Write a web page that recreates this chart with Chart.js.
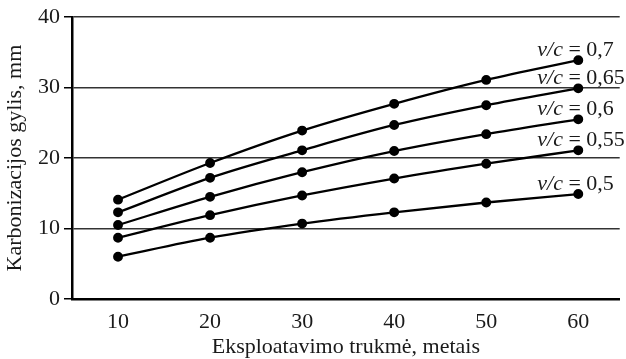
<!DOCTYPE html>
<html>
<head>
<meta charset="utf-8">
<script src="https://cdn.jsdelivr.net/npm/chart.js@4"></script>
<style>
  body { margin: 0; background: #fff; }
  #wrap { width: 626px; height: 359px; }
</style>
</head>
<body>
<div id="wrap"><canvas id="chart"></canvas></div>
<script>
const years = [10, 20, 30, 40, 50, 60];
const ratios = ["0,5", "0,55", "0,6", "0,65", "0,7"];
const vc050 = [6.0, 8.7, 10.7, 12.3, 13.7, 14.9];
const vc055 = [8.7, 11.9, 14.7, 17.1, 19.2, 21.1];
const vc060 = [10.5, 14.5, 18.0, 21.0, 23.4, 25.5];
const vc065 = [12.3, 17.2, 21.1, 24.7, 27.5, 29.9];
const vc070 = [14.1, 19.3, 23.9, 27.7, 31.1, 33.9];
const xTicks = [10, 20, 30, 40, 50, 60];
const yTicks = [0, 10, 20, 30, 40];

const serif = "'Liberation Serif', 'Times New Roman', serif";
const series = [vc050, vc055, vc060, vc065, vc070];

const datasets = series.map((vals, i) => ({
  label: ratios[i],
  data: vals.map((v, j) => ({ x: years[j], y: v })),
  borderColor: "#000",
  backgroundColor: "#000",
  borderWidth: 2.3,
  pointRadius: 3.8,
  pointBackgroundColor: "#000",
  tension: 0.4,
  cubicInterpolationMode: "monotone",
}));

// v/c labels next to the end of each curve
const endLabels = {
  id: "endLabels",
  afterDatasetsDraw(chart) {
    const ctx = chart.ctx;
    ctx.save();
    ctx.fillStyle = "#1a1a1a";
    ctx.textBaseline = "alphabetic";
    chart.data.datasets.forEach((ds, i) => {
      const pts = chart.getDatasetMeta(i).data;
      const last = pts[pts.length - 1];
      const x = last.x - 41;
      const y = last.y - 4;
      ctx.font = "italic 22px " + serif;
      ctx.fillText("v/c", x, y);
      const w = ctx.measureText("v/c").width;
      ctx.font = "22px " + serif;
      ctx.fillText(" = " + ds.label, x + w, y);
    });
    ctx.restore();
  },
};

new Chart(document.getElementById("chart"), {
  type: "line",
  data: { datasets: datasets },
  options: {
    responsive: true,
    maintainAspectRatio: false,
    animation: false,
    layout: { padding: { top: 16, right: 6, bottom: 0, left: 2 } },
    plugins: { legend: { display: false }, tooltip: { enabled: false } },
    scales: {
      x: {
        type: "linear",
        min: 5,
        max: 64.5,
        afterBuildTicks: (axis) => {
          axis.ticks = xTicks.map((v) => ({ value: v }));
        },
        afterFit: (axis) => { axis.height = 60; },
        grid: { display: false, drawTicks: false },
        border: { color: "#000", width: 2.5 },
        ticks: { color: "#1a1a1a", padding: 10, font: { family: serif, size: 22 } },
        title: {
          display: true,
          text: "Eksploatavimo trukmė, metais",
          color: "#1a1a1a",
          padding: { top: 0, bottom: -1 },
          font: { family: serif, size: 22 },
        },
      },
      y: {
        min: 0,
        max: 40,
        afterBuildTicks: (axis) => {
          axis.ticks = yTicks.map((v) => ({ value: v }));
        },
        afterFit: (axis) => { axis.width = 70; },
        grid: { color: "#333", lineWidth: 1.5, tickLength: 8, tickColor: "#000" },
        border: { color: "#000", width: 2.5 },
        ticks: { color: "#1a1a1a", padding: 4, font: { family: serif, size: 22 } },
        title: {
          display: true,
          text: "Karbonizacijos gylis, mm",
          color: "#1a1a1a",
          padding: { top: 0, bottom: 0 },
          font: { family: serif, size: 22 },
        },
      },
    },
  },
  plugins: [endLabels],
});
</script>
</body>
</html>
